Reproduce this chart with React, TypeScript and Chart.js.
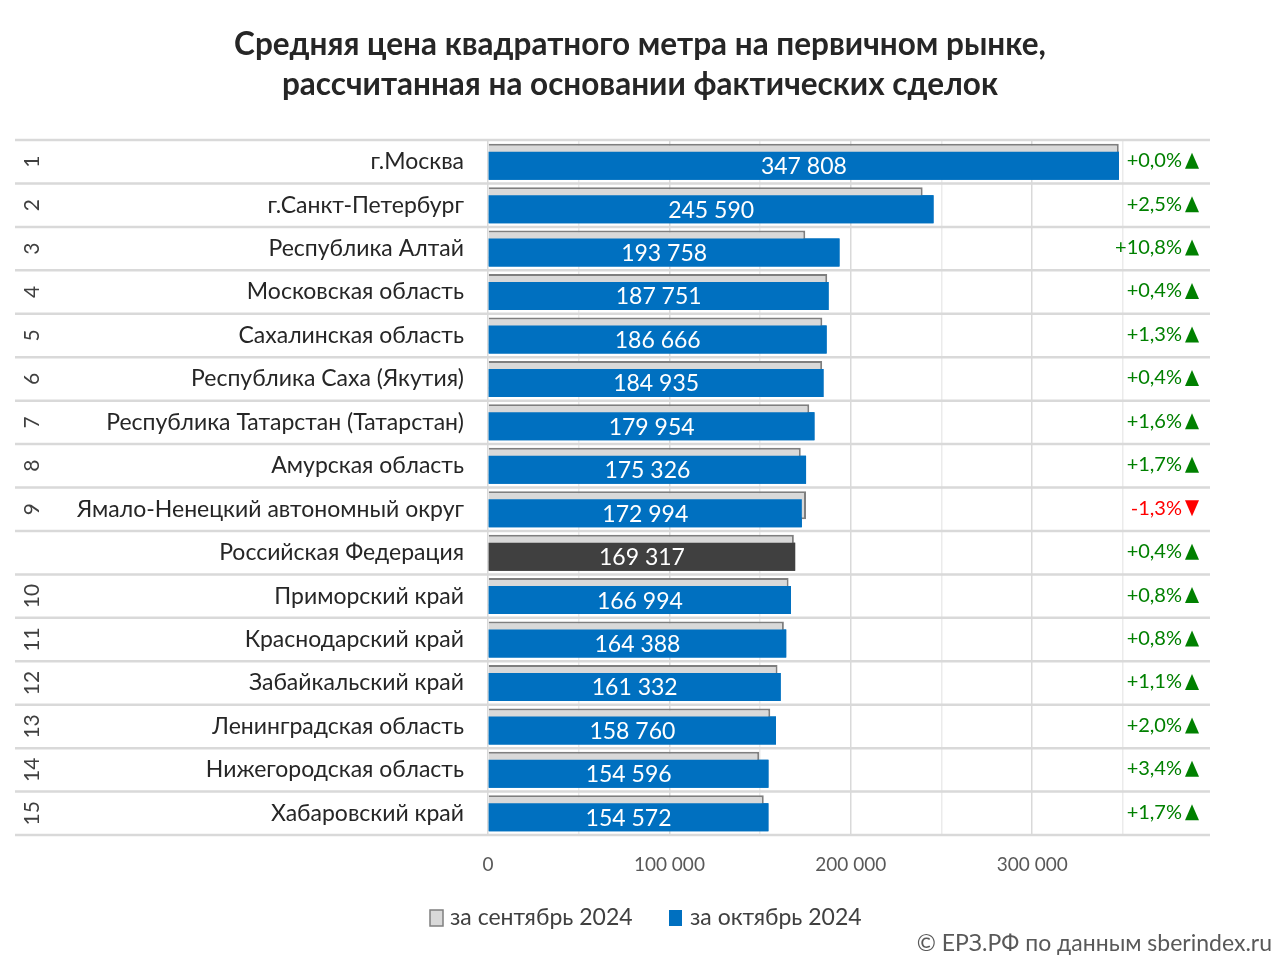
import React, { useEffect, useRef } from "react";
import { Chart, registerables } from "chart.js";

Chart.register(...registerables);

const FONT = "Lato, 'Open Sans', sans-serif";

const titleLines = [
  "Средняя цена квадратного метра на первичном рынке,",
  "рассчитанная на основании фактических сделок",
];

const categories = [
  "г.Москва",
  "г.Санкт-Петербург",
  "Республика Алтай",
  "Московская область",
  "Сахалинская область",
  "Республика Саха (Якутия)",
  "Республика Татарстан (Татарстан)",
  "Амурская область",
  "Ямало-Ненецкий автономный округ",
  "Российская Федерация",
  "Приморский край",
  "Краснодарский край",
  "Забайкальский край",
  "Ленинградская область",
  "Нижегородская область",
  "Хабаровский край",
];

const ranks = ["1", "2", "3", "4", "5", "6", "7", "8", "9", "", "10", "11", "12", "13", "14", "15"];

const october = [
  347808, 245590, 193758, 187751, 186666, 184935, 179954, 175326, 172994, 169317, 166994, 164388,
  161332, 158760, 154596, 154572,
];

const september = [
  347700, 239600, 174900, 187000, 184300, 184200, 177100, 172400, 175300, 168600, 165700, 163100,
  159600, 155600, 149500, 152000,
];

const changes = [
  "+0,0%", "+2,5%", "+10,8%", "+0,4%", "+1,3%", "+0,4%", "+1,6%", "+1,7%", "-1,3%", "+0,4%",
  "+0,8%", "+0,8%", "+1,1%", "+2,0%", "+3,4%", "+1,7%",
];

const gridValues = [0, 50000, 100000, 150000, 200000, 250000, 300000, 350000];

const seriesNames = ["за сентябрь 2024", "за октябрь 2024"];
const creditText = "© ЕРЗ.РФ по данным sberindex.ru";
const highlightCategory = "Российская Федерация";

const fmt = (v: number) => String(Math.round(v)).replace(/\B(?=(\d{3})+(?!\d))/g, " ");

export default function App() {
  const ref = useRef<HTMLCanvasElement | null>(null);

  useEffect(() => {
    document.body.style.margin = "0";
    const canvas = ref.current;
    if (!canvas) return;

    const decor = {
      id: "decor",
      beforeDatasetsDraw(chart: any) {
        const ctx = chart.ctx;
        const y = chart.scales.y;
        const area = chart.chartArea;
        ctx.save();
        ctx.strokeStyle = "#d9d9d9";
        ctx.lineWidth = 2.5;
        const n = categories.length;
        for (let i = 0; i <= n; i++) {
          let py: number;
          if (i === 0) py = area.top;
          else if (i === n) py = area.bottom;
          else py = (y.getPixelForValue(i - 1) + y.getPixelForValue(i)) / 2;
          ctx.beginPath();
          ctx.moveTo(15, py);
          ctx.lineTo(area.right, py);
          ctx.stroke();
        }
        ctx.restore();
      },
      afterDatasetsDraw(chart: any) {
        const ctx = chart.ctx;
        // draw the October bars again so they lie over the September bars
        const meta = chart.getDatasetMeta(1);
        ctx.save();
        meta.controller.draw();
        ctx.restore();
        ctx.save();
        ctx.fillStyle = "#ffffff";
        ctx.font = `23px ${FONT}`;
        ctx.textAlign = "center";
        ctx.textBaseline = "middle";
        meta.data.forEach((bar: any, i: number) => {
          ctx.fillText(fmt(october[i]), (bar.x + bar.base) / 2, bar.y + 1);
        });
        ctx.restore();
      },
      afterDraw(chart: any) {
        const ctx = chart.ctx;
        const y = chart.scales.y;
        ctx.save();
        // title
        ctx.fillStyle = "#262626";
        ctx.font = `bold 31.5px ${FONT}`;
        ctx.textAlign = "center";
        ctx.textBaseline = "middle";
        ctx.fillText(titleLines[0], 640, 45);
        ctx.fillText(titleLines[1], 640, 85);

        // ranks (rotated, reading bottom to top)
        ctx.fillStyle = "#404040";
        ctx.font = `21px ${FONT}`;
        ranks.forEach((r, i) => {
          if (!r) return;
          const py = y.getPixelForValue(i);
          ctx.save();
          ctx.translate(32, py);
          ctx.rotate(-Math.PI / 2);
          ctx.textAlign = "center";
          ctx.textBaseline = "middle";
          ctx.fillText(r, 0, 0);
          ctx.restore();
        });

        // percent changes
        ctx.font = `20px ${FONT}`;
        ctx.textAlign = "right";
        ctx.textBaseline = "middle";
        changes.forEach((c, i) => {
          const py = y.getPixelForValue(i) - 1;
          const up = !c.startsWith("-");
          const col = up ? "#008000" : "#ff0000";
          ctx.fillStyle = col;
          ctx.fillText(c, 1182, py);
          ctx.beginPath();
          if (up) {
            ctx.moveTo(1185, py + 8);
            ctx.lineTo(1199, py + 8);
            ctx.lineTo(1192, py - 8);
          } else {
            ctx.moveTo(1185, py - 8);
            ctx.lineTo(1199, py - 8);
            ctx.lineTo(1192, py + 8);
          }
          ctx.closePath();
          ctx.fill();
        });

        // legend
        ctx.font = `23px ${FONT}`;
        ctx.textAlign = "left";
        ctx.textBaseline = "middle";
        const ly = 918;
        ctx.fillStyle = "#d9d9d9";
        ctx.fillRect(430, ly - 8, 13, 16);
        ctx.strokeStyle = "#7f7f7f";
        ctx.lineWidth = 1.5;
        ctx.strokeRect(430, ly - 8, 13, 16);
        ctx.fillStyle = "#404040";
        ctx.fillText(seriesNames[0], 450, ly);
        ctx.fillStyle = "#0070c0";
        ctx.fillRect(669, ly - 8, 13, 16);
        ctx.fillStyle = "#404040";
        ctx.fillText(seriesNames[1], 690, ly);

        // credit
        ctx.fillStyle = "#595959";
        ctx.font = `23px ${FONT}`;
        ctx.textAlign = "right";
        ctx.fillText(creditText, 1272, 944);
        ctx.restore();
      },
    };

    const chart = new Chart(canvas, {
      type: "bar",
      data: {
        labels: categories,
        datasets: [
          {
            label: seriesNames[0],
            data: september,
            backgroundColor: "#d9d9d9",
            borderColor: "#7f7f7f",
            borderWidth: 2,
            categoryPercentage: 0.368,
            barPercentage: 3.5,
            order: 0,
          },
          {
            label: seriesNames[1],
            data: october,
            backgroundColor: categories.map((c) => (c === highlightCategory ? "#404040" : "#0070c0")),
            borderWidth: 0,
            categoryPercentage: 0.368,
            barPercentage: 3.5,
            order: 1,
          },
        ],
      },
      options: {
        indexAxis: "y",
        responsive: false,
        animation: false,
        layout: { padding: { left: 0, right: 70, top: 140, bottom: 0 } },
        plugins: {
          legend: { display: false },
          title: { display: false },
          tooltip: { enabled: false },
        },
        scales: {
          x: {
            type: "linear",
            min: 0,
            max: 398000,
            position: "bottom",
            afterBuildTicks: (s: any) => {
              s.ticks = gridValues.map((v) => ({ value: v }));
            },
            afterFit: (s: any) => {
              s.height = 125;
            },
            grid: {
              color: (c: any) =>
                c.tick && c.tick.value % 100000 === 0 ? "#d9d9d9" : "#ebebeb",
              lineWidth: 1.5,
              drawTicks: false,
            },
            border: { display: false },
            ticks: {
              autoSkip: false,
              maxRotation: 0,
              padding: 18,
              color: "#595959",
              font: { family: FONT, size: 19 },
              callback: (v: any) => (Number(v) % 100000 === 0 ? fmt(Number(v)) : ""),
            },
          },
          y: {
            type: "category",
            afterFit: (s: any) => {
              s.width = 488;
            },
            grid: { display: false, drawTicks: false },
            border: { display: false },
            ticks: {
              autoSkip: false,
              padding: 24,
              color: "#262626",
              font: { family: FONT, size: 23 },
            },
          },
        },
      },
      plugins: [decor],
    } as any);

    return () => chart.destroy();
  }, []);

  return (
    <div style={{ width: 1280, height: 960 }}>
      <canvas ref={ref} width={1280} height={960} style={{ display: "block" }} />
    </div>
  );
}
